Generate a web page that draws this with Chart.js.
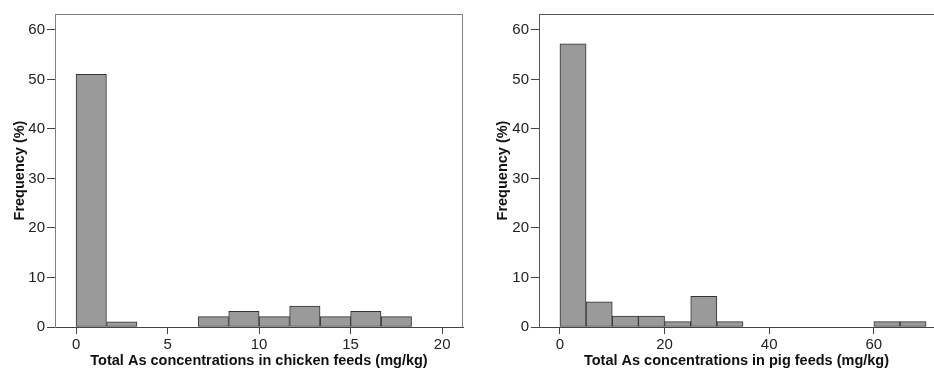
<!DOCTYPE html>
<html lang="en">
<head>
    <meta charset="UTF-8">
    <title>Total As concentrations in feeds</title>
    <script src="https://cdn.jsdelivr.net/npm/chart.js@4.4.0/dist/chart.umd.min.js"></script>
</head>
<script type="text/javascript">
    // histogram bins (bin centres) and frequencies
    const chickenBins = [0.83, 2.5, 4.17, 5.83, 7.5, 9.17, 10.83, 12.5, 14.17, 15.83, 17.5, 19.17];
    const chickenFreq = [51, 1.05, 0, 0, 2.1, 3.15, 2.1, 4.2, 2.1, 3.15, 2.1, 0];
    const chickenTicks = [0, 5, 10, 15, 20];

    const pigBins = [2.5, 7.5, 12.5, 17.5, 22.5, 27.5, 32.5, 37.5, 42.5, 47.5, 52.5, 57.5, 62.5, 67.5];
    const pigFreq = [57.2, 5.1, 2.2, 2.2, 1.1, 6.2, 1.1, 0, 0, 0, 0, 0, 1.1, 1.1];
    const pigTicks = [0, 20, 40, 60];

    const freqTicks = [0, 10, 20, 30, 40, 50, 60];
</script>
<style>
    body {
        margin: 0;
        background: #fff;
        overflow: hidden;
    }
    .panel {
        position: absolute;
        top: 0;
    }
    #left-panel { left: 0; }
    #right-panel { left: 470px; }
</style>
<body>
    <div class="panel" id="left-panel"><canvas id="chicken" width="470" height="377"></canvas></div>
    <div class="panel" id="right-panel"><canvas id="pig" width="464" height="377"></canvas></div>
</body>
<script type="text/javascript">
    const FONT = '"Liberation Sans", Arial, sans-serif';

    // draws the box round the plot area (sides chosen per chart)
    const framePlugin = {
        id: 'frame',
        afterDatasetsDraw: (chart, args, options) => {
            const {ctx, chartArea: a} = chart;
            ctx.save();
            ctx.strokeStyle = options.color || '#777';
            ctx.lineWidth = 1;
            ctx.beginPath();
            const sides = options.sides || [];
            if (sides.includes('top')) { ctx.moveTo(a.left, a.top + 0.5); ctx.lineTo(a.right, a.top + 0.5); }
            if (sides.includes('right')) { ctx.moveTo(a.right - 0.5, a.top); ctx.lineTo(a.right - 0.5, a.bottom); }
            ctx.stroke();
            ctx.restore();
        }
    };

    function makeHist(id, bins, freq, ticks, xMin, xMax, xTitle, opt) {
        const canvas = document.getElementById(id);
        return new Chart(canvas, {
            type: 'bar',
            data: {
                datasets: [{
                    data: bins.map((b, i) => ({x: b, y: freq[i]})),
                    backgroundColor: '#9a9a9a',
                    borderColor: '#333',
                    borderWidth: 1,
                    borderSkipped: false,
                    barPercentage: 1,
                    categoryPercentage: 1,
                }]
            },
            options: {
                responsive: false,
                animation: false,
                events: [],
                layout: {padding: {top: 14, right: opt.padRight, left: 0, bottom: 0}},
                scales: {
                    x: {
                        type: 'linear',
                        min: xMin,
                        max: xMax,
                        offset: false,
                        afterFit: s => { s.height = 50; },
                        afterBuildTicks: s => { s.ticks = ticks.map(v => ({value: v})); },
                        grid: {
                            offset: false,
                            drawOnChartArea: false,
                            drawTicks: true,
                            tickLength: 7,
                            color: '#444',
                        },
                        border: {color: '#444', width: 1},
                        ticks: {
                            padding: 2,
                            color: '#222',
                            maxRotation: 0,
                            font: {family: FONT, size: 15},
                        },
                        title: {
                            display: true,
                            text: xTitle,
                            color: '#111',
                            padding: {top: 0, bottom: 7},
                            font: {family: FONT, size: 14.5, weight: 'bold'},
                        },
                    },
                    y: {
                        min: 0,
                        max: 63.2,
                        afterFit: s => { s.width = opt.yWidth; },
                        afterBuildTicks: s => { s.ticks = freqTicks.map(v => ({value: v})); },
                        grid: {
                            drawOnChartArea: false,
                            drawTicks: true,
                            tickLength: 8,
                            color: '#444',
                        },
                        border: {color: opt.frameColor, width: 1},
                        ticks: {
                            padding: 2,
                            color: '#222',
                            font: {family: FONT, size: 15},
                        },
                        title: {
                            display: true,
                            text: 'Frequency (%)',
                            color: '#111',
                            padding: {top: opt.yTitlePad, bottom: 0},
                            font: {family: FONT, size: 14.5, weight: 'bold'},
                        },
                    },
                },
                plugins: {
                    legend: {display: false},
                    tooltip: {enabled: false},
                    frame: {sides: opt.sides, color: opt.frameColor},
                },
            },
            plugins: [framePlugin],
        });
    }

    makeHist('chicken', chickenBins, chickenFreq, chickenTicks, -1.15, 21.14,
        'Total As concentrations in chicken feeds (mg/kg)',
        {padRight: 7, yWidth: 55, yTitlePad: 11, sides: ['top', 'right'], frameColor: '#808080'});

    makeHist('pig', pigBins, pigFreq, pigTicks, -4.0, 71.5,
        'Total As concentrations in pig feeds (mg/kg)',
        {padRight: 0, yWidth: 69, yTitlePad: 24, sides: ['top'], frameColor: '#555'});
</script>
</html>
